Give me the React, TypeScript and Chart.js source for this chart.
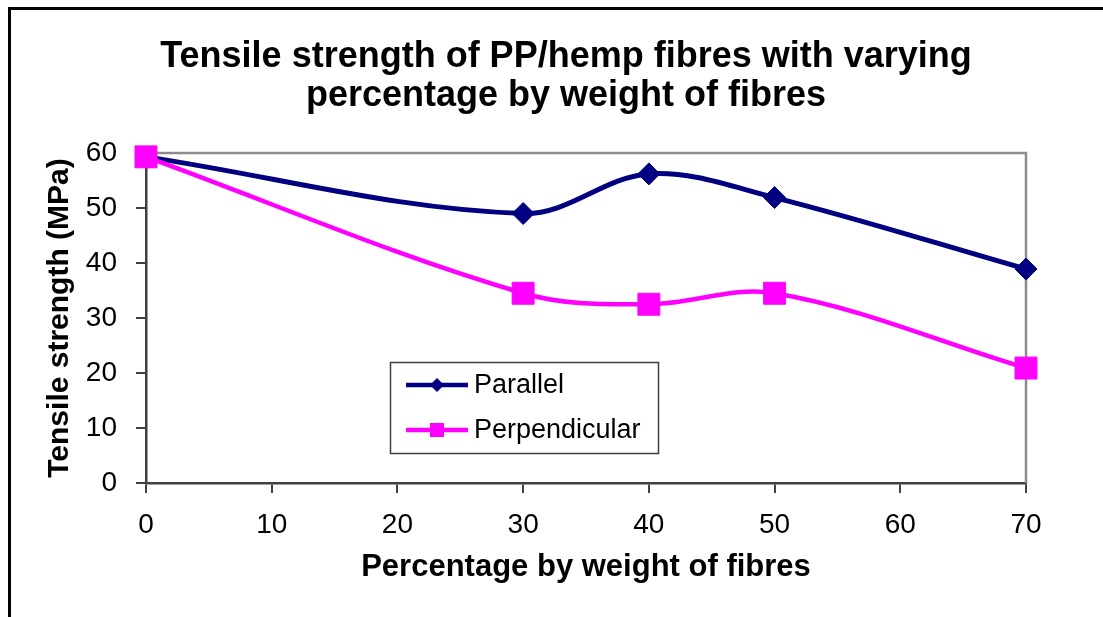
import { useEffect, useRef } from "react";
import { Chart, registerables } from "chart.js";

Chart.register(...registerables);

const fibrePercent = [0, 30, 40, 50, 70];
const parallelStrength = [59.3, 49.0, 56.2, 51.9, 38.9];
const perpendicularStrength = [59.3, 34.5, 32.5, 34.5, 20.9];
const seriesNames = ["Parallel", "Perpendicular"];
const seriesColors = ["#000080", "#FF00FF"];
const titleLines = [
  "Tensile strength of PP/hemp fibres with varying",
  "percentage by weight of fibres",
];
const xAxisTitle = "Percentage by weight of fibres";
const yAxisTitle = "Tensile strength (MPa)";

const FONT = "'Liberation Sans', Arial, Helvetica, sans-serif";

const decorPlugin = {
  id: "decor",
  beforeDraw(chart: any) {
    const { ctx, width, height } = chart;
    ctx.save();
    ctx.fillStyle = "#ffffff";
    ctx.fillRect(0, 0, width, height);
    ctx.fillStyle = "#000000";
    ctx.fillRect(8, 7, width - 8, 3);
    ctx.fillRect(8, 7, 3, height - 7);
    ctx.restore();
  },
  beforeDatasetsDraw(chart: any) {
    const { ctx, chartArea } = chart;
    ctx.save();
    ctx.strokeStyle = "#8c8c8c";
    ctx.lineWidth = 2.5;
    ctx.beginPath();
    ctx.moveTo(chartArea.left, chartArea.top);
    ctx.lineTo(chartArea.right, chartArea.top);
    ctx.lineTo(chartArea.right, chartArea.bottom);
    ctx.stroke();
    ctx.restore();
  },
  afterDraw(chart: any) {
    const { ctx } = chart;
    ctx.save();
    // title
    ctx.fillStyle = "#000000";
    ctx.font = `bold 36px ${FONT}`;
    ctx.textAlign = "center";
    ctx.textBaseline = "middle";
    ctx.fillText(titleLines[0], 566, 57);
    ctx.fillText(titleLines[1], 566, 96);

    // legend
    const bx = 390, by = 362, bw = 268, bh = 91;
    ctx.fillStyle = "#ffffff";
    ctx.fillRect(bx, by, bw, bh);
    ctx.strokeStyle = "#404040";
    ctx.lineWidth = 1.5;
    ctx.strokeRect(bx + 0.5, by + 0.5, bw, bh);
    const rows = [385, 430];
    ctx.font = `27px ${FONT}`;
    ctx.textAlign = "left";
    rows.forEach((y, i) => {
      ctx.strokeStyle = seriesColors[i];
      ctx.fillStyle = seriesColors[i];
      ctx.lineWidth = 4.5;
      ctx.beginPath();
      ctx.moveTo(406, y);
      ctx.lineTo(468, y);
      ctx.stroke();
      const cx = 437;
      if (i === 0) {
        ctx.beginPath();
        ctx.moveTo(cx - 7, y);
        ctx.lineTo(cx, y - 7);
        ctx.lineTo(cx + 7, y);
        ctx.lineTo(cx, y + 7);
        ctx.closePath();
        ctx.fill();
      } else {
        ctx.fillRect(cx - 7, y - 7, 14, 14);
      }
      ctx.fillStyle = "#000000";
      ctx.fillText(seriesNames[i], 474, y + 1);
    });
    ctx.restore();
  },
};

export default function App() {
  const canvasRef = useRef<HTMLCanvasElement | null>(null);

  useEffect(() => {
    if (!canvasRef.current) return;
    const toPoints = (vals: number[]) =>
      fibrePercent.map((x, i) => ({ x, y: vals[i] }));
    const chart = new Chart(canvasRef.current, {
      type: "line",
      data: {
        datasets: [
          {
            label: seriesNames[0],
            data: toPoints(parallelStrength),
            borderColor: seriesColors[0],
            backgroundColor: seriesColors[0],
            borderWidth: 5,
            pointStyle: "rectRot",
            pointRadius: 11,
            pointBorderWidth: 1,
            tension: 0.35,
            clip: false,
            order: 1,
          } as any,
          {
            label: seriesNames[1],
            data: toPoints(perpendicularStrength),
            borderColor: seriesColors[1],
            backgroundColor: seriesColors[1],
            borderWidth: 4.5,
            pointStyle: "rect",
            pointRadius: 15.5,
            pointBorderWidth: 1,
            tension: 0.35,
            clip: false,
            order: 0,
          } as any,
        ],
      },
      options: {
        animation: false,
        responsive: false,
        maintainAspectRatio: false,
        layout: { padding: { left: 10, right: 77, top: 153, bottom: 20 } },
        plugins: {
          legend: { display: false },
          title: { display: false },
          tooltip: { enabled: false },
        },
        scales: {
          x: {
            type: "linear",
            min: 0,
            max: 70,
            afterFit: (s: any) => {
              s.height = 114;
            },
            ticks: {
              stepSize: 10,
              color: "#000000",
              padding: 15,
              font: { family: FONT, size: 28 },
            },
            grid: {
              drawOnChartArea: false,
              drawTicks: true,
              tickLength: 10,
              color: "#404040",
              lineWidth: 2,
            },
            border: { display: true, color: "#404040", width: 2.5 },
            title: {
              display: true,
              text: xAxisTitle,
              color: "#000000",
              font: { family: FONT, size: 31, weight: "bold" },
              padding: { top: 0, bottom: 11 },
            },
          },
          y: {
            type: "linear",
            min: 0,
            max: 60,
            afterFit: (s: any) => {
              s.width = 136;
            },
            ticks: {
              stepSize: 10,
              color: "#000000",
              padding: 19,
              font: { family: FONT, size: 28 },
            },
            grid: {
              drawOnChartArea: false,
              drawTicks: true,
              tickLength: 10,
              color: "#404040",
              lineWidth: 2,
            },
            border: { display: true, color: "#404040", width: 2.5 },
            title: {
              display: true,
              text: yAxisTitle,
              color: "#000000",
              font: { family: FONT, size: 30, weight: "bold" },
              padding: { top: 32, bottom: 0 },
            },
          },
        },
      } as any,
      plugins: [decorPlugin],
    });
    return () => chart.destroy();
  }, []);

  return (
    <div
      style={{
        position: "fixed",
        left: 0,
        top: 0,
        width: 1103,
        height: 617,
        overflow: "hidden",
        background: "#ffffff",
      }}
    >
      <canvas
        ref={canvasRef}
        width={1103}
        height={617}
        style={{ display: "block", width: 1103, height: 617 }}
      />
    </div>
  );
}
